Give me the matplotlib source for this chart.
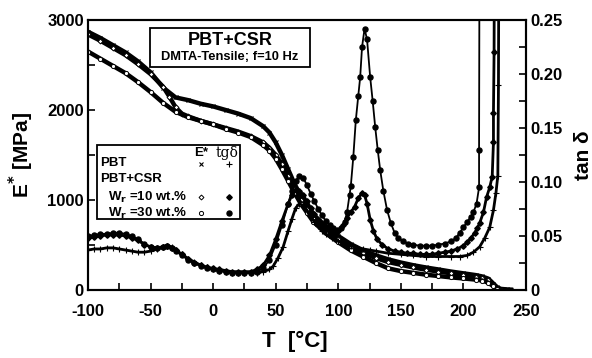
import matplotlib
matplotlib.use("Agg")
import matplotlib.pyplot as plt

plt.rcParams['font.family'] = ['Liberation Sans', 'DejaVu Sans']

# ---------------- data ----------------
# E* [MPa]
T_E_pbt = [-100, -90, -80, -70, -60, -50, -40, -30, -20, -10, 0, 10, 20, 30, 40, 45, 50, 55, 60, 65,
           70, 75, 80, 90, 100, 110, 120, 130, 140, 150, 160, 170, 180, 190, 200, 210, 215, 220, 224,
           227, 230, 235, 238]
E_pbt = [2870, 2800, 2720, 2640, 2540, 2420, 2250, 2140, 2110, 2070, 2040, 2000, 1960, 1910, 1820, 1750,
         1640, 1500, 1340, 1180, 1050, 940, 840, 710, 600, 510, 440, 385, 340, 305, 275, 250, 228, 205,
         185, 165, 150, 125, 70, 30, 12, 6, 4]

T_E_10 = [-100, -90, -80, -70, -60, -50, -40, -35, -30, -25, -20, -10, 0, 10, 20, 30, 40, 45, 50, 55,
          60, 65, 70, 75, 80, 90, 100, 110, 120, 130, 140, 150, 160, 170, 180, 190, 200, 210, 215, 220,
          224, 227, 230]
E_10 = [2840, 2770, 2690, 2610, 2510, 2400, 2260, 2150, 2030, 1960, 1930, 1880, 1840, 1800, 1760, 1710,
        1640, 1580, 1500, 1400, 1270, 1120, 1000, 900, 800, 670, 570, 480, 410, 355, 310, 280, 250, 225,
        205, 185, 165, 145, 130, 110, 55, 20, 5]

T_E_30 = [-100, -90, -80, -70, -60, -50, -40, -30, -20, -10, 0, 10, 20, 30, 40, 45, 50, 55, 60, 65, 70,
          75, 80, 90, 100, 110, 120, 130, 140, 150, 160, 170, 180, 190, 200, 210, 215, 220, 224, 227, 230]
E_30 = [2650, 2570, 2490, 2410, 2310, 2200, 2080, 1980, 1920, 1880, 1840, 1790, 1750, 1700, 1610, 1550,
        1460, 1340, 1210, 1080, 960, 860, 760, 630, 530, 440, 370, 300, 240, 210, 190, 170, 155, 140,
        128, 115, 105, 80, 40, 15, 3]

# tan delta
T_t_pbt = [-100, -95, -90, -85, -80, -75, -70, -65, -60, -55, -50, -45, -40, -37, -33, -30, -25, -20, -15,
           -10, -5, 0, 5, 10, 15, 20, 25, 30, 35, 40, 45, 48, 52, 56, 60, 63, 66, 69, 72, 75, 78, 81, 84,
           87, 90, 95, 100, 105, 110, 115, 120, 125, 130, 140, 150, 160, 170, 180, 190, 197, 203, 208,
           213, 217, 221, 224, 226, 227.5, 228, 228.5]
tan_pbt = [0.037, 0.038, 0.038, 0.039, 0.039, 0.038, 0.037, 0.036, 0.035, 0.035, 0.036, 0.038, 0.040,
           0.041, 0.040, 0.037, 0.033, 0.029, 0.026, 0.023, 0.021, 0.019, 0.018, 0.017, 0.016, 0.016,
           0.016, 0.016, 0.016, 0.017, 0.019, 0.022, 0.030, 0.040, 0.055, 0.066, 0.076, 0.080, 0.078,
           0.073, 0.068, 0.063, 0.059, 0.055, 0.052, 0.048, 0.045, 0.043, 0.041, 0.039, 0.038, 0.037,
           0.036, 0.034, 0.033, 0.032, 0.031, 0.031, 0.031, 0.031, 0.032, 0.035, 0.040, 0.048, 0.058,
           0.074, 0.090, 0.106, 0.190, 0.400]

T_t_10 = [-100, -95, -90, -85, -80, -75, -70, -65, -60, -55, -50, -45, -40, -37, -33, -30, -25, -20, -15,
          -10, -5, 0, 5, 10, 15, 20, 25, 30, 35, 40, 45, 50, 55, 60, 63, 66, 69, 72, 75, 78, 81, 84, 87,
          90, 93, 96, 100, 104, 107, 110, 113, 116, 119, 121, 123, 125.5, 128, 131, 135, 140, 145, 150,
          155, 160, 165, 170, 175, 180, 185, 190, 195, 200, 203, 206, 209, 211, 213, 216, 218.5, 221,
          223, 224, 224, 224.5, 225]
tan_10 = [0.048, 0.049, 0.050, 0.051, 0.051, 0.051, 0.050, 0.048, 0.046, 0.042, 0.040, 0.039, 0.040,
          0.041, 0.039, 0.037, 0.033, 0.029, 0.025, 0.023, 0.021, 0.020, 0.019, 0.018, 0.017, 0.017,
          0.017, 0.017, 0.019, 0.023, 0.032, 0.047, 0.064, 0.080, 0.088, 0.093, 0.092, 0.088, 0.082,
          0.076, 0.070, 0.065, 0.060, 0.057, 0.054, 0.052, 0.055, 0.060, 0.067, 0.072, 0.077, 0.085,
          0.090, 0.088, 0.080, 0.065, 0.055, 0.047, 0.042, 0.038, 0.036, 0.035, 0.034, 0.034, 0.033,
          0.033, 0.033, 0.034, 0.035, 0.036, 0.038, 0.041, 0.044, 0.048, 0.053, 0.057, 0.062, 0.072,
          0.086, 0.095, 0.105, 0.137, 0.164, 0.220, 0.400]

T_t_30 = [-100, -95, -90, -85, -80, -75, -70, -65, -60, -55, -50, -45, -40, -37, -33, -30, -25, -20, -15,
          -10, -5, 0, 5, 10, 15, 20, 25, 30, 35, 40, 45, 50, 55, 60, 63, 66, 69, 72, 75, 78, 81, 84, 87,
          90, 93, 96, 99, 102, 105, 107, 109, 110, 112, 114, 116, 117.5, 119, 121, 123, 125.5, 127.5,
          129.5, 131.5, 133.5, 136, 139, 142, 145, 148, 152, 156, 160, 165, 170, 175, 180, 185, 190,
          194, 197, 200, 203, 206, 208, 210.5, 212.5, 212.5, 213]
tan_30 = [0.050, 0.051, 0.052, 0.052, 0.053, 0.053, 0.052, 0.050, 0.047, 0.043, 0.040, 0.039, 0.040,
          0.041, 0.039, 0.036, 0.032, 0.028, 0.025, 0.022, 0.020, 0.019, 0.018, 0.017, 0.016, 0.016,
          0.016, 0.016, 0.017, 0.020, 0.028, 0.042, 0.060, 0.080, 0.092, 0.101, 0.106, 0.104, 0.097,
          0.089, 0.082, 0.075, 0.069, 0.064, 0.060, 0.057, 0.056, 0.057, 0.063, 0.072, 0.088, 0.096,
          0.123, 0.157, 0.180, 0.197, 0.225, 0.242, 0.232, 0.197, 0.175, 0.151, 0.130, 0.111, 0.092,
          0.074, 0.062, 0.053, 0.048, 0.045, 0.043, 0.042, 0.041, 0.041, 0.041, 0.042, 0.043, 0.045,
          0.048, 0.053, 0.058, 0.063, 0.068, 0.072, 0.080, 0.095, 0.130, 0.400]

x_ticks = [-100, -50, 0, 50, 100, 150, 200, 250]
y_ticks = [0, 1000, 2000, 3000]
y2_ticks = [0, 0.05, 0.10, 0.15, 0.20, 0.25]
y2_labels = ['0', '0.05', '0.10', '0.15', '0.20', '0.25']

# ---------------- figure ----------------
fig = plt.figure(figsize=(5.92, 3.58), dpi=100)
ax = fig.add_axes([0.1486, 0.19, 0.7399, 0.754])
ax2 = ax.twinx()

k = 'black'
ax.plot(T_E_pbt, E_pbt, color=k, lw=3.2, marker='x', ms=3, mew=0.8)
ax.plot(T_E_10, E_10, color=k, lw=3.2, marker='D', ms=2.5, mfc='white', mew=0.7)
ax.plot(T_E_30, E_30, color=k, lw=3.2, marker='o', ms=3, mfc='white', mew=0.7)

ax2.plot(T_t_pbt, tan_pbt, color=k, lw=2.0, marker='+', ms=4, mew=0.8)
ax2.plot(T_t_10, tan_10, color=k, lw=2.0, marker='D', ms=2.8)
ax2.plot(T_t_30, tan_30, color=k, lw=1.3, marker='o', ms=3.6)

ax.set_xlim(-100, 250)
ax.set_ylim(0, 3000)
ax2.set_ylim(0, 0.25)

ax.set_xticks(x_ticks)
ax.set_xticks(range(-75, 250, 50), minor=True)
ax.set_yticks(y_ticks)
ax.set_yticks([500, 1500, 2500], minor=True)
ax2.set_yticks(y2_ticks)
ax2.set_yticklabels(y2_labels)
ax2.set_yticks([0.025, 0.075, 0.125, 0.175, 0.225], minor=True)

tick_font = dict(fontsize=12, fontweight='bold')
ax.set_xticklabels([str(v) for v in x_ticks], **tick_font)
ax.set_yticklabels([str(v) for v in y_ticks], **tick_font)
for lab in ax2.get_yticklabels():
    lab.set_fontsize(12)
    lab.set_fontweight('bold')

for a in (ax, ax2):
    a.tick_params(which='both', direction='in', length=5, width=1.2)
    for s in a.spines.values():
        s.set_linewidth(1.5)
ax.tick_params(axis='x', pad=10)
ax.tick_params(axis='y', pad=3)
ax2.tick_params(axis='y', pad=3)

xl = ax.set_xlabel('T  [°C]', fontsize=16, fontweight='bold', va='center')
ax.xaxis.set_label_coords(0.473, -0.19)
ax.set_ylabel('E$^{\\mathbf{*}}$ [MPa]', fontsize=15, fontweight='bold', labelpad=8)
ax2.set_ylabel('tan δ', fontsize=15, fontweight='bold', labelpad=8)

# title box
from matplotlib.patches import Rectangle
ax.add_patch(Rectangle((0.1416, 0.826), 0.365, 0.144, transform=ax.transAxes,
                       facecolor='white', edgecolor=k, lw=1.3, zorder=5))
ax.text(0.324, 0.923, 'PBT+CSR', transform=ax.transAxes, ha='center', va='center',
        fontsize=13, fontweight='bold', zorder=6)
ax.text(0.324, 0.862, 'DMTA-Tensile; f=10 Hz', transform=ax.transAxes, ha='center', va='center',
        fontsize=9.3, fontweight='bold', zorder=6)

# legend box
ax.add_patch(Rectangle((0.0205, 0.263), 0.3265, 0.274, transform=ax.transAxes,
                       facecolor='white', edgecolor=k, lw=1.3, zorder=5))
lf = dict(transform=ax.transAxes, fontsize=9.5, fontweight='bold', zorder=6, va='center')
ax.text(0.258, 0.508, 'E*', ha='center', **lf)
ax.text(0.318, 0.508, 'tgδ', ha='center', fontsize=10, transform=ax.transAxes, zorder=6,
        va='center', family=['DejaVu Serif'])
ax.text(0.027, 0.470, 'PBT', ha='left', **lf)
ax.text(0.027, 0.412, 'PBT+CSR', ha='left', **lf)
ax.text(0.046, 0.344, 'W$_\\mathbf{r}$ =10 wt.%', ha='left', **lf)
ax.text(0.046, 0.285, 'W$_\\mathbf{r}$ =30 wt.%', ha='left', **lf)
mk = dict(transform=ax.transAxes, color=k, zorder=7, ls='none')
ax.plot([0.258], [0.468], marker='x', ms=3, mew=0.8, **mk)
ax.plot([0.322], [0.468], marker='+', ms=4, mew=0.8, **mk)
ax.plot([0.258], [0.344], marker='D', ms=2.5, mfc='white', mew=0.7, **mk)
ax.plot([0.322], [0.344], marker='D', ms=2.8, **mk)
ax.plot([0.258], [0.285], marker='o', ms=3, mfc='white', mew=0.7, **mk)
ax.plot([0.322], [0.285], marker='o', ms=3.6, **mk)

fig.savefig('out.png', dpi=100)
